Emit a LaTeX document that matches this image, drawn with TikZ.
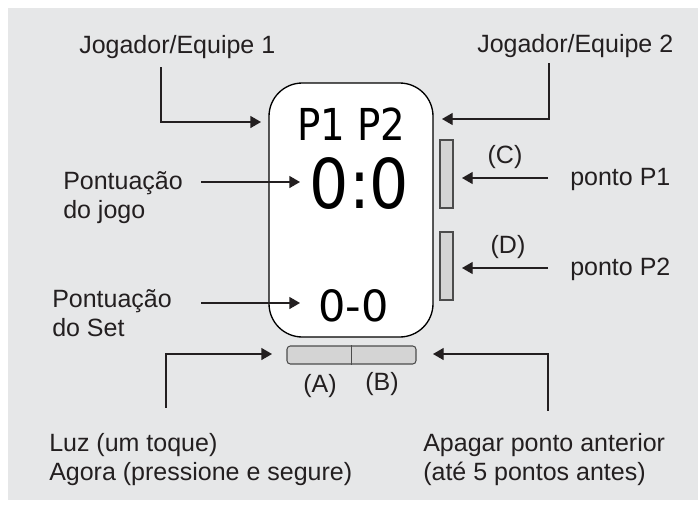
\documentclass[tikz,border=0pt]{standalone}
\usepackage{fontspec}
\setmainfont{Liberation Sans}
\newfontfamily\segfont{DejaVu Sans}
\usetikzlibrary{arrows.meta, positioning, calc}

\definecolor{panelgray}{HTML}{E6E7E8}
\definecolor{keygray}{HTML}{D4D4D4}
\definecolor{inkgray}{HTML}{231F20}

\tikzset{
  lbl/.style={inner sep=0pt, text=inkgray, align=left},
  seg/.style={inner sep=0pt, font=\segfont\fontsize{#1}{#1}\selectfont},
  key/.style={draw=black!70, fill=keygray, line width=0.8pt, inner sep=0pt},
  arr/.style={-{Triangle[length=8pt,width=9pt]}, line width=1pt, draw=inkgray},
}

\begin{document}
\begin{tikzpicture}[x=0.75pt, y=-0.75pt, font=\fontsize{18.75}{21.75}\selectfont]
    \useasboundingbox (0,0) rectangle (698,507);
    \fill[panelgray] (8,8) rectangle (698,500);

    % display and keys
    \node[draw, fill=white, line width=1pt, rounded corners=25pt,
          minimum width=123pt, minimum height=190.5pt] (disp) at (351,210) {};
    \node[key, minimum width=9.75pt, minimum height=51pt] (keyc) at (446.5,174) {};
    \node[key, minimum width=9.75pt, minimum height=51pt] (keyd) at (446.5,266) {};
    \node[key, rounded corners=2.5pt, minimum width=96.75pt, minimum height=13.5pt] (keyab) at (351.5,355) {};
    \draw[black!70, line width=0.8pt] (keyab.north) -- (keyab.south);

    % screen
    \node[seg=33] (players) at (351.5,124) {\scalebox{0.88}[1]{P1 P2}};
    \node[seg=51.5] (score) at (359.5,183) {\scalebox{0.9}[1]{0:0}};
    \node[seg=32.3] (sets) at (353.5,306) {0-0};

    % key names
    \node[lbl] (labc) at (505,157) {(C)};
    \node[lbl] (labd) at (508,247) {(D)};
    \node[lbl] (laba) at (320,386) {(A)};
    \node[lbl] (labb) at (382,384) {(B)};

    % captions (base of a two-line node is its last line)
    \node[lbl, anchor=base west] (team1) at (79,53) {Jogador/Equipe 1};
    \node[lbl, anchor=base west] (team2) at (477,52) {Jogador/Equipe 2};
    \node[lbl, anchor=base west] (game) at (63,218) {Pontuação\\do jogo};
    \node[lbl, anchor=base west] (set) at (52,336) {Pontuação\\do Set};
    \node[lbl, anchor=base west] (pt1) at (570,185) {ponto P1};
    \node[lbl, anchor=base west] (pt2) at (570,275) {ponto P2};
    \node[lbl, anchor=base west] (light) at (49,480) {Luz (um toque)\\Agora (pressione e segure)};
    \node[lbl, anchor=base west] (undo) at (423,480) {Apagar ponto anterior\\(até 5 pontos antes)};

    \coordinate (tipteam1) at (261,122);
    \coordinate (tipteam2) at (442,119);
    \coordinate (tipgame) at (300,182);
    \coordinate (tipset) at (300,303);
    \coordinate (tippt1) at (462,178);
    \coordinate (tippt2) at (462,268);
    \coordinate (tiplight) at (272,354);
    \coordinate (tipundo) at (433,354);

    \draw[arr] ([xshift=61.5pt,yshift=-6.5pt]team1.south west) |- (tipteam1);
    \draw[arr] ([xshift=54pt,yshift=-4.3pt]team2.south west) |- (tipteam2);
    \draw[arr, shorten <=13.5pt] (game.east |- tipgame) -- (tipgame);
    \draw[arr, shorten <=21.75pt] (set.east |- tipset) -- (tipset);
    \draw[arr, shorten <=16.5pt] (pt1.west |- tippt1) -- (tippt1);
    \draw[arr, shorten <=16.5pt] (pt2.west |- tippt2) -- (tippt2);
    \draw[arr] ([xshift=87.75pt,yshift=18.75pt]light.north west) |- (tiplight);
    \draw[arr] ([xshift=93.75pt,yshift=16.5pt]undo.north west) |- (tipundo);
\end{tikzpicture}
\end{document}
